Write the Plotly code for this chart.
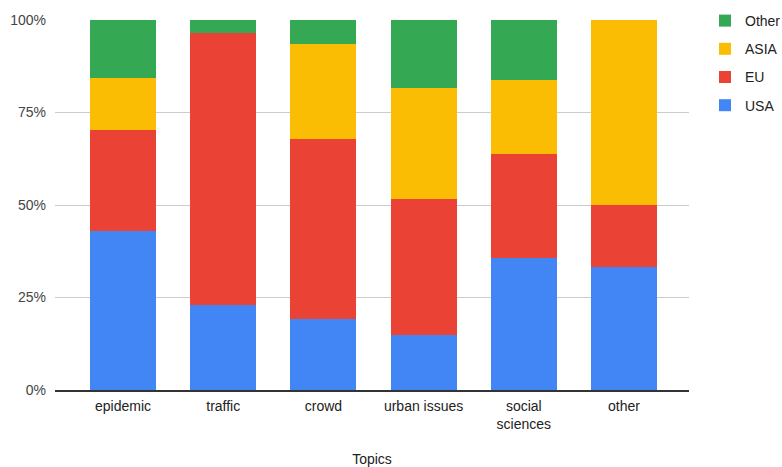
import plotly.graph_objects as go

topics = ["epidemic", "traffic", "crowd", "urban issues", "social<br>sciences", "other"]
usa = [43.0, 23.1, 19.3, 14.8, 35.8, 33.3]
eu = [27.3, 73.3, 48.6, 36.9, 28.0, 16.7]
asia = [13.9, 0.0, 25.5, 29.9, 20.0, 50.0]
other = [15.8, 3.6, 6.6, 18.4, 16.2, 0.0]

series = [("USA", usa, "#4285F4", 4), ("EU", eu, "#EA4335", 3),
          ("ASIA", asia, "#FBBC04", 2), ("Other", other, "#34A853", 1)]

fig = go.Figure()
for name, vals, col, rank in series:
    fig.add_trace(go.Bar(x=topics, y=vals, name=name, legendgroup=name, legendrank=rank,
                         marker=dict(color=col, line=dict(width=0))))

fig.update_layout(
    barmode="stack", barnorm="percent", bargap=0.34,
    width=782, height=467,
    margin=dict(l=55, r=93, t=20, b=77, pad=0, autoexpand=False),
    plot_bgcolor="white", paper_bgcolor="white",
    font=dict(family="Liberation Sans, Arial, sans-serif", size=14, color="#222222"),
    legend=dict(traceorder="grouped", tracegroupgap=7,
                xref="container", yref="container",
                x=705 / 782, y=1 - 5 / 467,
                xanchor="left", yanchor="top", font=dict(size=14, color="#222222"),
                bgcolor="rgba(0,0,0,0)"),
    showlegend=True,
)
fig.update_xaxes(range=[-0.679, 5.649], showgrid=False, showline=True, linecolor="#333333",
                 linewidth=1.5, ticks="", tickfont=dict(size=14, color="#222222"),
                 automargin=False, ticklabelstandoff=2,
                 title=dict(text="Topics", font=dict(size=14, color="#222222"), standoff=30))
fig.update_yaxes(range=[0, 100], tickvals=[0, 25, 50, 75, 100],
                 ticktext=["0%", "25%", "50%", "75%", "100%"], automargin=False,
                 showgrid=True, gridcolor="#cccccc", gridwidth=1, zeroline=False,
                 tickfont=dict(size=14, color="#444444"), ticks="", ticklabelstandoff=8)

fig.write_html("out.html")
